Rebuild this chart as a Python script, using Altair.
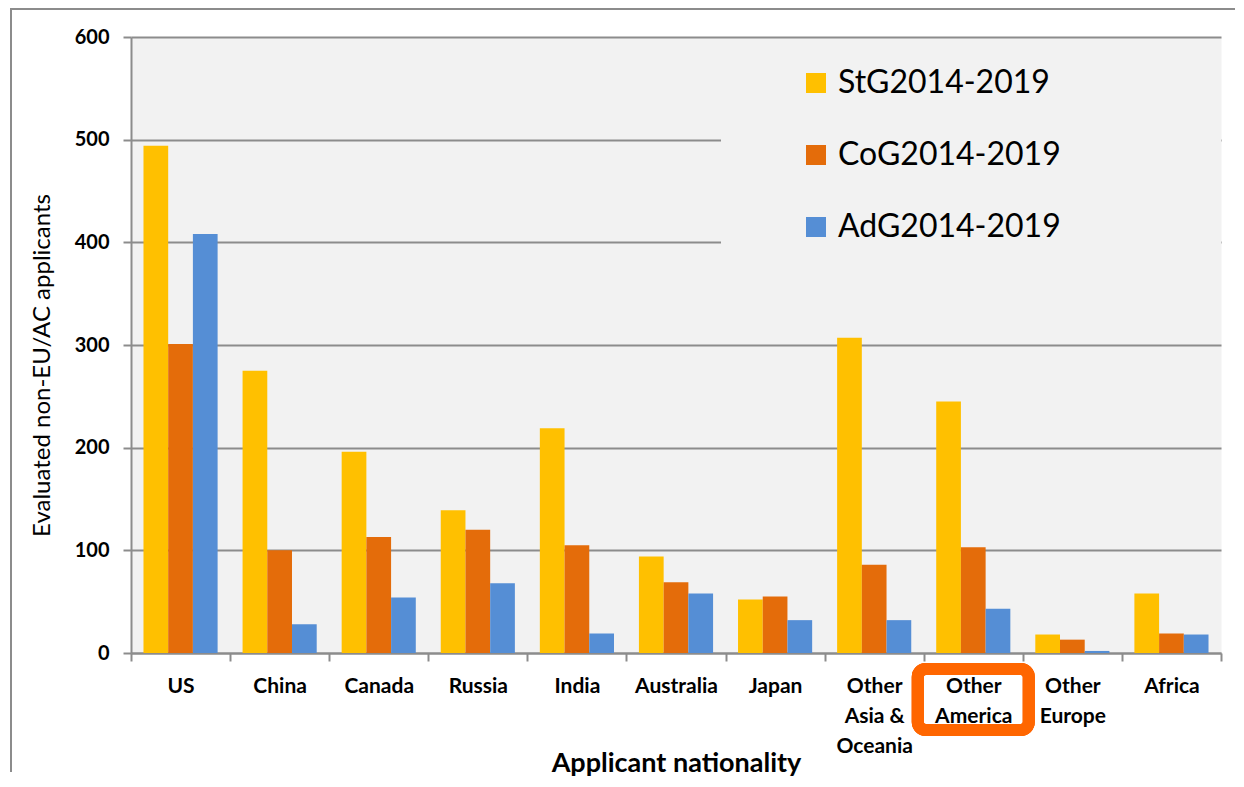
import altair as alt
import pandas as pd

# ---- data ----
nationalities = ["US", "China", "Canada", "Russia", "India", "Australia", "Japan",
                 "Other Asia & Oceania", "Other America", "Other Europe", "Africa"]
series = ["StG2014-2019", "CoG2014-2019", "AdG2014-2019"]
stg = [494, 275, 196, 139, 219, 94, 52, 307, 245, 18, 58]
cog = [301, 100, 113, 120, 105, 69, 55, 86, 103, 13, 19]
adg = [408, 28, 54, 68, 19, 58, 32, 32, 43, 2, 18]
y_ticks = [0, 100, 200, 300, 400, 500, 600]
highlighted = "Other America"

colors = ["#FFC000", "#E46C0A", "#558ED5"]

rows = []
for s, vals in zip(series, [stg, cog, adg]):
    for n, v in zip(nationalities, vals):
        rows.append({"nationality": n, "scheme": s, "applicants": v})
df = pd.DataFrame(rows)

FONT = "Lato"
GRID = "#8c8c8c"
W, H = 1090, 616

label_expr = ("{'Other Asia & Oceania': ['Other', 'Asia &', 'Oceania'], "
              "'Other America': ['Other', 'America'], "
              "'Other Europe': ['Other', 'Europe']}[datum.value] || datum.value")

x_enc = alt.X(
    "nationality:N", sort=nationalities,
    scale=alt.Scale(paddingInner=0, paddingOuter=0),
    axis=alt.Axis(
        title="Applicant nationality", labelExpr=label_expr, labelAngle=0,
        labelFont=FONT, labelFontWeight="bold", labelFontSize=21, labelLineHeight=30,
        labelPadding=14, labelColor="black", tickSize=8, tickColor=GRID, tickWidth=2,
        tickBand="extent", domainColor=GRID, domainWidth=2, grid=False,
        titleFont=FONT, titleFontSize=27, titleFontWeight="bold", titleColor="black",
        titlePadding=-6,
    ),
)

y_enc = alt.Y(
    "applicants:Q",
    scale=alt.Scale(domain=[0, 600], nice=False),
    axis=alt.Axis(
        values=y_ticks, title="Evaluated non-EU/AC applicants",
        labelFont=FONT, labelFontWeight="bold", labelFontSize=20, labelColor="black",
        labelPadding=14, tickSize=8, tickColor=GRID, tickWidth=2,
        domainColor=GRID, domainWidth=2, gridColor=GRID, gridWidth=2,
        titleFont=FONT, titleFontSize=24, titleFontWeight="normal", titleColor="black",
        titlePadding=20, titleY=328,
    ),
)

bars = alt.Chart(df).mark_bar().encode(
    x=x_enc,
    xOffset=alt.XOffset("scheme:N", sort=series,
                        scale=alt.Scale(paddingInner=0, paddingOuter=0.505)),
    y=y_enc,
    color=alt.Color(
        "scheme:N", sort=series,
        scale=alt.Scale(domain=series, range=colors),
        legend=alt.Legend(
            title=None, orient="none", legendX=669, legendY=30,
            symbolType="square", symbolSize=400, symbolStrokeWidth=0,
            labelFont=FONT, labelFontSize=32, labelColor="black", labelLimit=500,
            rowPadding=40, labelOffset=6,
        ),
    ),
)

# light panel behind the legend that hides the gridlines
one = pd.DataFrame({"k": [0]})
legend_bg = alt.Chart(one).mark_rect(color="#f2f2f2").encode(
    x=alt.value(590), x2=alt.value(W), y=alt.value(8), y2=alt.value(232)
)

# orange highlight box around the "Other America" label
highlight = alt.Chart(df).transform_filter(
    alt.datum.nationality == highlighted
).mark_bar(
    fillOpacity=0, stroke="#FF6600", strokeWidth=12, cornerRadius=8, width=111
).encode(
    x=alt.X("nationality:N", sort=nationalities),
    y=alt.value(632), y2=alt.value(693),
)

# outer frame (top and left edges)
frame_top = alt.Chart(one).mark_rule(color=GRID, strokeWidth=2).encode(
    x=alt.value(-121), x2=alt.value(1104), y=alt.value(-28)
)
frame_left = alt.Chart(one).mark_rule(color=GRID, strokeWidth=2).encode(
    x=alt.value(-120), y=alt.value(-28), y2=alt.value(735)
)

chart = alt.layer(legend_bg, bars, highlight, frame_top, frame_left).properties(
    width=W, height=H,
    padding={"left": 1, "top": 0, "right": 0, "bottom": 0},
).configure(
    font=FONT, background="white",
    view=alt.ViewConfig(fill="#f2f2f2", strokeOpacity=0),
)

chart.save("out.html", embed_options={"renderer": "svg", "actions": False})
